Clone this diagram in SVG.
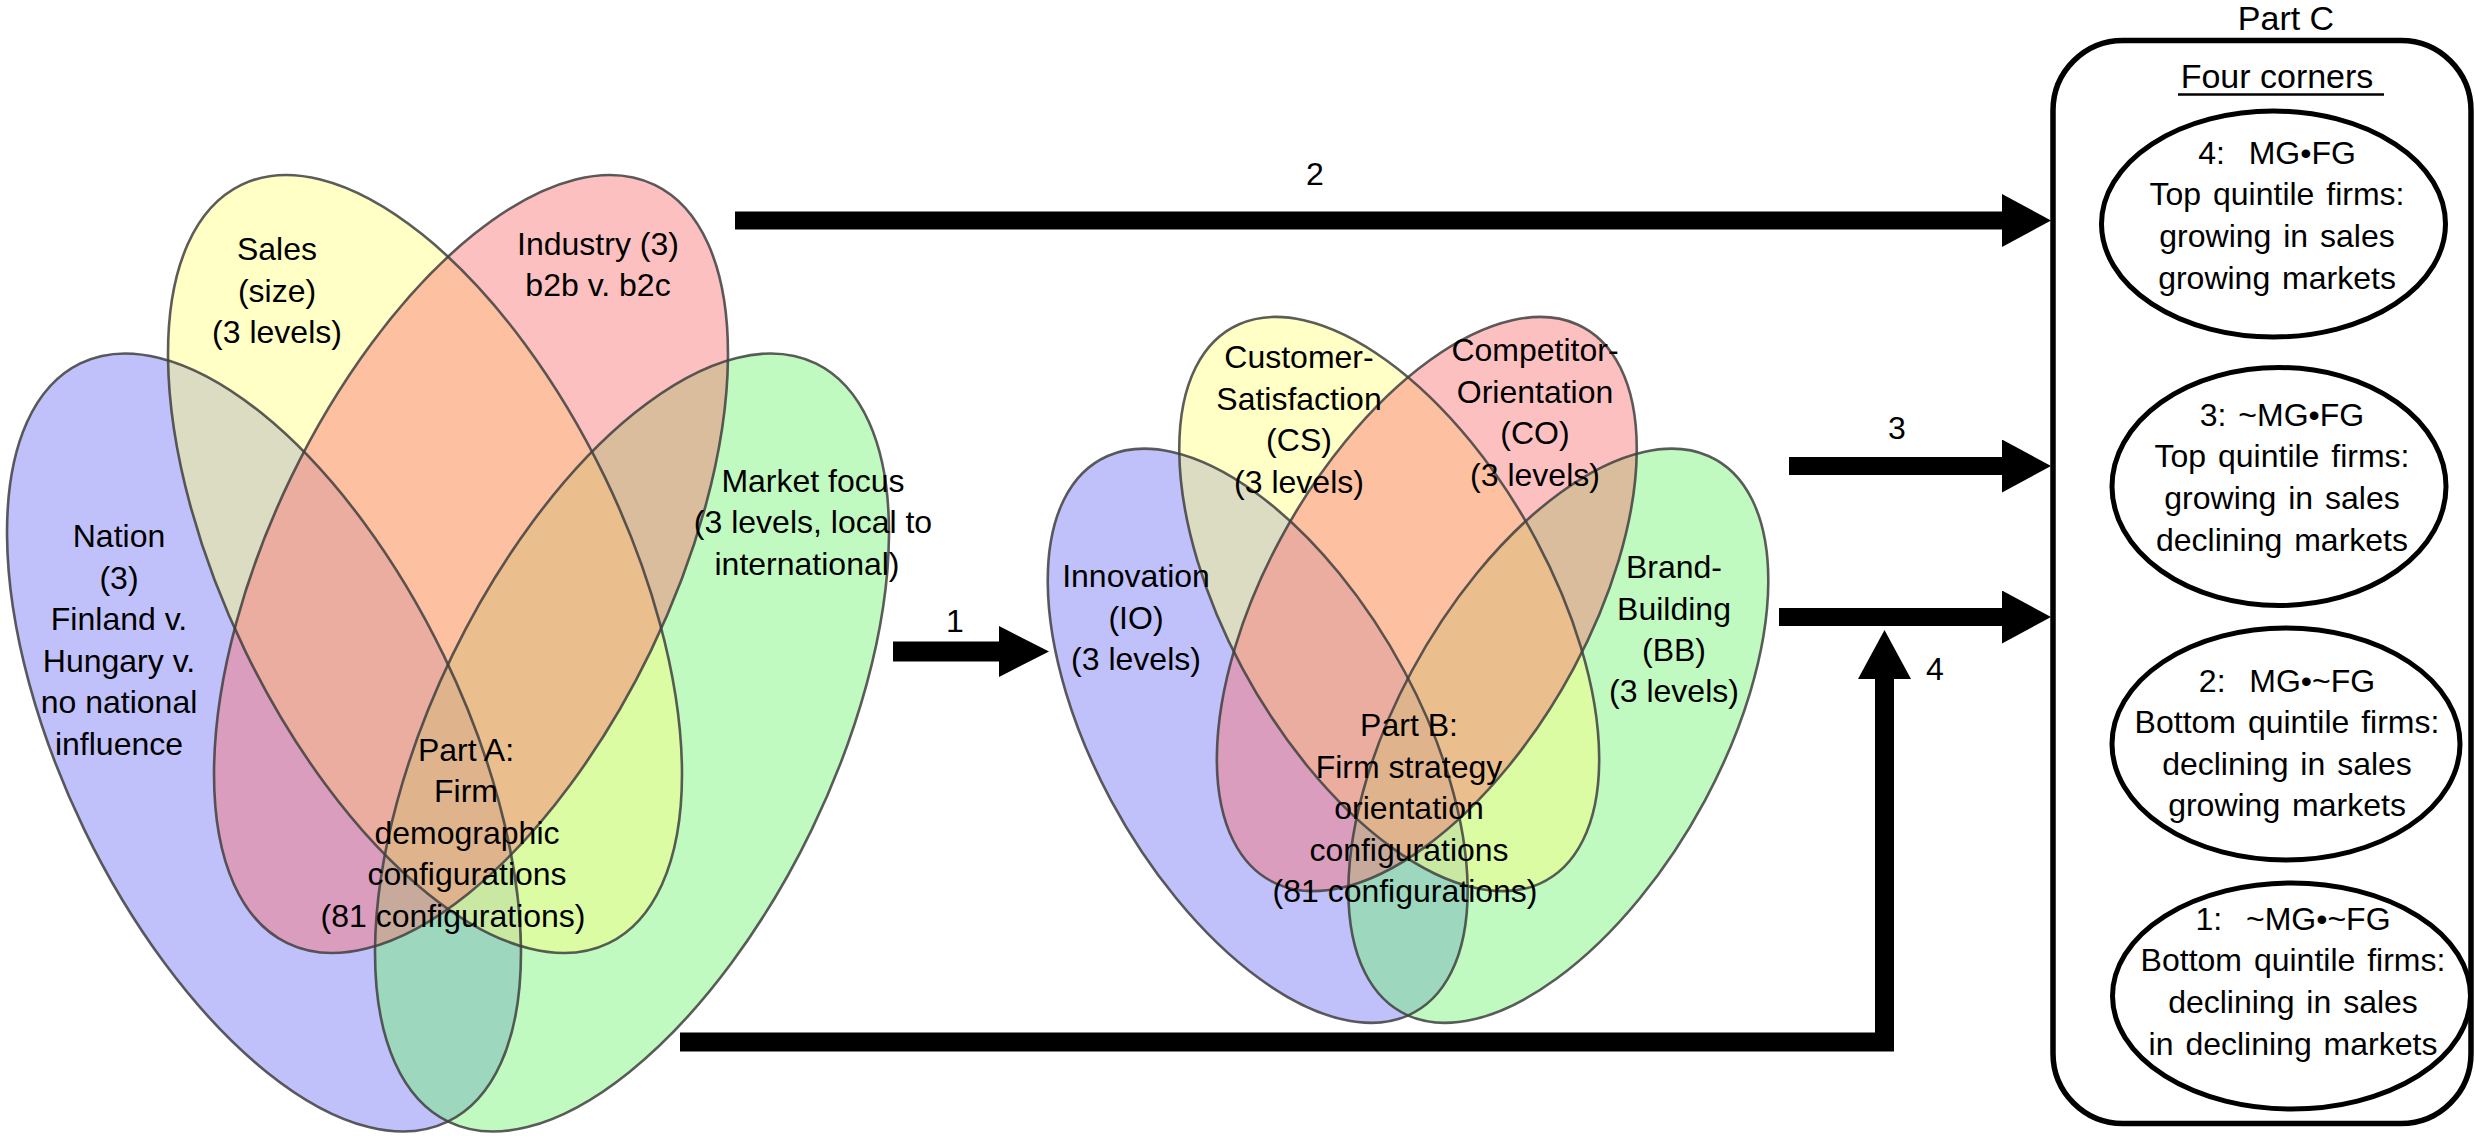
<svg xmlns="http://www.w3.org/2000/svg" xmlns:xlink="http://www.w3.org/1999/xlink" width="2475" height="1136" viewBox="0 0 2475 1136">
<defs>
<style>
.bg{fill:#ffffff}
.ve{vector-effect:non-scaling-stroke}
.vb{fill:#7474f4;fill-opacity:0.45;stroke:none}
.vy{fill:#ffff81;fill-opacity:0.45;stroke:none}
.vr{fill:#fa7474;fill-opacity:0.45;stroke:none}
.vg{fill:#74f474;fill-opacity:0.45;stroke:none}
.outl{fill:none;stroke:#404040;stroke-opacity:0.85;stroke-width:2.6}
.t{font-family:"Liberation Sans",Arial,Helvetica,sans-serif;font-size:32px;fill:#000;text-anchor:middle}
.tc{font-family:"Liberation Sans",Arial,Helvetica,sans-serif;font-size:32px;fill:#000;text-anchor:middle;word-spacing:3px}
.h{font-family:"Liberation Sans",Arial,Helvetica,sans-serif;font-size:34px;fill:#000;text-anchor:middle}
.ln{fill:none;stroke:#000;stroke-linejoin:miter;stroke-linecap:butt}
.box{fill:none;stroke:#000;stroke-width:5.5}
.oval{fill:none;stroke:#000;stroke-width:5}
</style>
<marker id="ah" viewBox="0 0 49 53" refX="0" refY="26.5" markerWidth="49" markerHeight="53" markerUnits="userSpaceOnUse" orient="auto">
<path d="M0,0 L49,26.5 L0,53 Z" fill="#000"/>
</marker>
<marker id="ah1" viewBox="0 0 50 51" refX="0" refY="25.5" markerWidth="50" markerHeight="51" markerUnits="userSpaceOnUse" orient="auto">
<path d="M0,0 L50,25.5 L0,51 Z" fill="#000"/>
</marker>
</defs>
<rect class="bg" x="0" y="0" width="2475" height="1136"/>

<!-- Part A Venn -->
<g id="partA">
<g id="nation" class="vb"><ellipse id="eNation" class="ve" cx="0" cy="0" rx="199.7" ry="421.3" transform="translate(264,742.5) rotate(-25.85)"/></g>
<g id="market" class="vg"><ellipse id="eMarket" class="ve" cx="0" cy="0" rx="199.7" ry="421.3" transform="translate(632,742.5) rotate(25.85)"/></g>
<g id="sales" class="vy"><ellipse id="eSales" class="ve" cx="0" cy="0" rx="199.7" ry="421.3" transform="translate(425,564) rotate(-25.85)"/></g>
<g id="industry" class="vr"><ellipse id="eIndustry" class="ve" cx="0" cy="0" rx="199.7" ry="421.3" transform="translate(471,564) rotate(25.85)"/></g>
<g id="partA-outlines" class="outl">
<use xlink:href="#eNation" href="#eNation"/>
<use xlink:href="#eMarket" href="#eMarket"/>
<use xlink:href="#eSales" href="#eSales"/>
<use xlink:href="#eIndustry" href="#eIndustry"/>
</g>
<g id="partA-labels">
<text class="t" x="277" y="260">Sales</text>
<text class="t" x="277" y="302">(size)</text>
<text class="t" x="277" y="343">(3 levels)</text>
<text class="t" x="598" y="255">Industry (3)</text>
<text class="t" x="598" y="296">b2b v. b2c</text>
<text class="t" x="119" y="547">Nation</text>
<text class="t" x="119" y="589">(3)</text>
<text class="t" x="119" y="630">Finland v.</text>
<text class="t" x="119" y="672">Hungary v.</text>
<text class="t" x="119" y="713">no national</text>
<text class="t" x="119" y="755">influence</text>
<text class="t" x="813" y="492">Market focus</text>
<text class="t" x="813" y="533">(3 levels, local to</text>
<text class="t" x="807" y="575">international)</text>
<text class="t" x="466" y="761">Part A:</text>
<text class="t" x="466" y="802">Firm</text>
<text class="t" x="467" y="844">demographic</text>
<text class="t" x="467" y="885">configurations</text>
<text class="t" x="453" y="927">(81 configurations)</text>
</g>
</g>

<!-- Part B Venn -->
<g id="partB">
<g transform="translate(1042,187.8) scale(0.817,0.738)">
<g id="innovation" class="vb"><ellipse id="eInnovation" class="ve" cx="0" cy="0" rx="199.7" ry="421.3" transform="translate(264,742.5) rotate(-25.85)"/></g>
<g id="brand" class="vg"><ellipse id="eBrand" class="ve" cx="0" cy="0" rx="199.7" ry="421.3" transform="translate(632,742.5) rotate(25.85)"/></g>
<g id="customer" class="vy"><ellipse id="eCustomer" class="ve" cx="0" cy="0" rx="199.7" ry="421.3" transform="translate(425,564) rotate(-25.85)"/></g>
<g id="competitor" class="vr"><ellipse id="eCompetitor" class="ve" cx="0" cy="0" rx="199.7" ry="421.3" transform="translate(471,564) rotate(25.85)"/></g>
<g id="partB-outlines" class="outl">
<use xlink:href="#eInnovation" href="#eInnovation"/>
<use xlink:href="#eBrand" href="#eBrand"/>
<use xlink:href="#eCustomer" href="#eCustomer"/>
<use xlink:href="#eCompetitor" href="#eCompetitor"/>
</g>
</g>
<g id="partB-labels">
<text class="t" x="1299" y="368">Customer-</text>
<text class="t" x="1299" y="410">Satisfaction</text>
<text class="t" x="1299" y="451">(CS)</text>
<text class="t" x="1299" y="493">(3 levels)</text>
<text class="t" x="1535" y="361">Competitor-</text>
<text class="t" x="1535" y="403">Orientation</text>
<text class="t" x="1535" y="444">(CO)</text>
<text class="t" x="1535" y="486">(3 levels)</text>
<text class="t" x="1136" y="587">Innovation</text>
<text class="t" x="1136" y="629">(IO)</text>
<text class="t" x="1136" y="670">(3 levels)</text>
<text class="t" x="1674" y="578">Brand-</text>
<text class="t" x="1674" y="620">Building</text>
<text class="t" x="1674" y="661">(BB)</text>
<text class="t" x="1674" y="702">(3 levels)</text>
<text class="t" x="1409" y="736">Part B:</text>
<text class="t" x="1409" y="778">Firm strategy</text>
<text class="t" x="1409" y="819">orientation</text>
<text class="t" x="1409" y="861">configurations</text>
<text class="t" x="1405" y="902">(81 configurations)</text>
</g>
</g>

<!-- Part C -->
<g id="partC">
<text class="h" x="2286" y="30">Part C</text>
<rect class="box" x="2053" y="40.5" width="418" height="1083" rx="70" ry="70"/>
<text class="h" x="2277" y="88">Four corners</text>
<line x1="2178" y1="94.5" x2="2384" y2="94.5" stroke="#000" stroke-width="2.5"/>
<g id="corner4">
<ellipse class="oval" cx="2273.5" cy="224" rx="172" ry="113"/>
<text class="tc" x="2277" y="164">4:&#160; MG•FG</text>
<text class="tc" x="2277" y="205">Top quintile firms:</text>
<text class="tc" x="2277" y="247">growing in sales</text>
<text class="tc" x="2277" y="289">growing markets</text>
</g>
<g id="corner3">
<ellipse class="oval" cx="2279" cy="486.5" rx="167" ry="119"/>
<text class="tc" x="2282" y="426">3: ~MG•FG</text>
<text class="tc" x="2282" y="467">Top quintile firms:</text>
<text class="tc" x="2282" y="509">growing in sales</text>
<text class="tc" x="2282" y="551">declining markets</text>
</g>
<g id="corner2">
<ellipse class="oval" cx="2286" cy="744" rx="174" ry="116"/>
<text class="tc" x="2287" y="692">2:&#160; MG•~FG</text>
<text class="tc" x="2287" y="733">Bottom quintile firms:</text>
<text class="tc" x="2287" y="775">declining in sales</text>
<text class="tc" x="2287" y="816">growing markets</text>
</g>
<g id="corner1">
<ellipse class="oval" cx="2291.5" cy="996" rx="179" ry="113"/>
<text class="tc" x="2293" y="930">1:&#160; ~MG•~FG</text>
<text class="tc" x="2293" y="971">Bottom quintile firms:</text>
<text class="tc" x="2293" y="1013">declining in sales</text>
<text class="tc" x="2293" y="1055">in declining markets</text>
</g>
</g>

<!-- Connectors -->
<g id="connectors">
<line class="ln" x1="893" y1="651.5" x2="999" y2="651.5" stroke-width="20" marker-end="url(#ah1)"/>
<text class="t" x="955" y="632">1</text>
<line class="ln" x1="735" y1="220.5" x2="2002" y2="220.5" stroke-width="18" marker-end="url(#ah)"/>
<text class="t" x="1315" y="185">2</text>
<line class="ln" x1="1789" y1="466" x2="2002" y2="466" stroke-width="18" marker-end="url(#ah)"/>
<text class="t" x="1897" y="439">3</text>
<line class="ln" x1="1779" y1="617" x2="2002" y2="617" stroke-width="18" marker-end="url(#ah)"/>
<path class="ln" d="M680,1042 H1884.5 V679" stroke-width="19" marker-end="url(#ah)"/>
<text class="t" x="1935" y="680">4</text>
</g>
</svg>
